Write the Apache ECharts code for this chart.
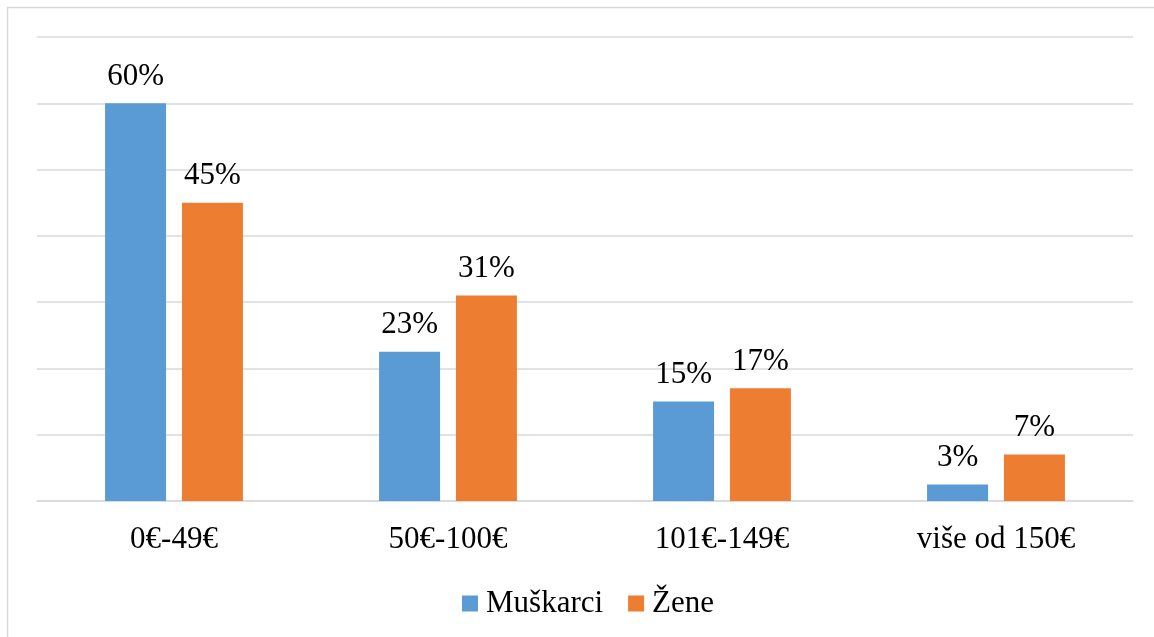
<!DOCTYPE html>
<html><head><meta charset="utf-8">
<script src="https://cdn.jsdelivr.net/npm/echarts@6/dist/echarts.min.js"></script>
<style>html,body{margin:0;padding:0;background:#fff}#c{width:1154px;height:637px}</style>
</head><body><div id="c"></div>
<script>
const categories = ['0€-49€', '50€-100€', '101€-149€', 'više od 150€'];
const muskarci = [60, 22.5, 15, 2.5];
const zene = [45, 31, 17, 7];
const seriesNames = ['Muškarci', 'Žene'];

const font = '"Liberation Serif", "Times New Roman", serif';
const chart = echarts.init(document.getElementById('c'), null, {renderer: 'canvas'});
const lbl = {show: true, position: 'top', distance: 11, formatter: p => Math.round(p.value) + '%', color: '#000', fontFamily: font, fontSize: 31};
chart.setOption({
  animation: false,
  graphic: [{type: 'rect', shape: {x: 7.5, y: 7.5, width: 1160, height: 650}, style: {fill: 'none', stroke: '#D9D9D9', lineWidth: 1.5}, silent: true}],
  grid: {left: 37, right: 21, top: 37, bottom: 136},
  legend: {
    left: 457, top: 583, itemWidth: 16, itemHeight: 16, itemGap: 25, icon: 'rect',
    textStyle: {fontFamily: font, fontSize: 31, color: '#000', padding: [0, 0, 0, 3]},
    data: seriesNames
  },
  xAxis: {
    type: 'category', data: categories,
    axisLine: {lineStyle: {color: '#D9D9D9', width: 1.5}},
    axisTick: {show: false},
    axisLabel: {fontFamily: font, fontSize: 31, color: '#000', margin: 23}
  },
  yAxis: {
    type: 'value', min: 0, max: 70, interval: 10,
    axisLabel: {show: false}, axisLine: {show: false}, axisTick: {show: false},
    splitLine: {lineStyle: {color: '#D9D9D9', width: 1.5}}
  },
  series: [
    {name: seriesNames[0], type: 'bar', data: muskarci, barWidth: 61, barGap: '26%', itemStyle: {color: '#5B9BD5'}, label: lbl},
    {name: seriesNames[1], type: 'bar', data: zene, barWidth: 61, itemStyle: {color: '#ED7D31'}, label: lbl}
  ]
});
</script></body></html>
